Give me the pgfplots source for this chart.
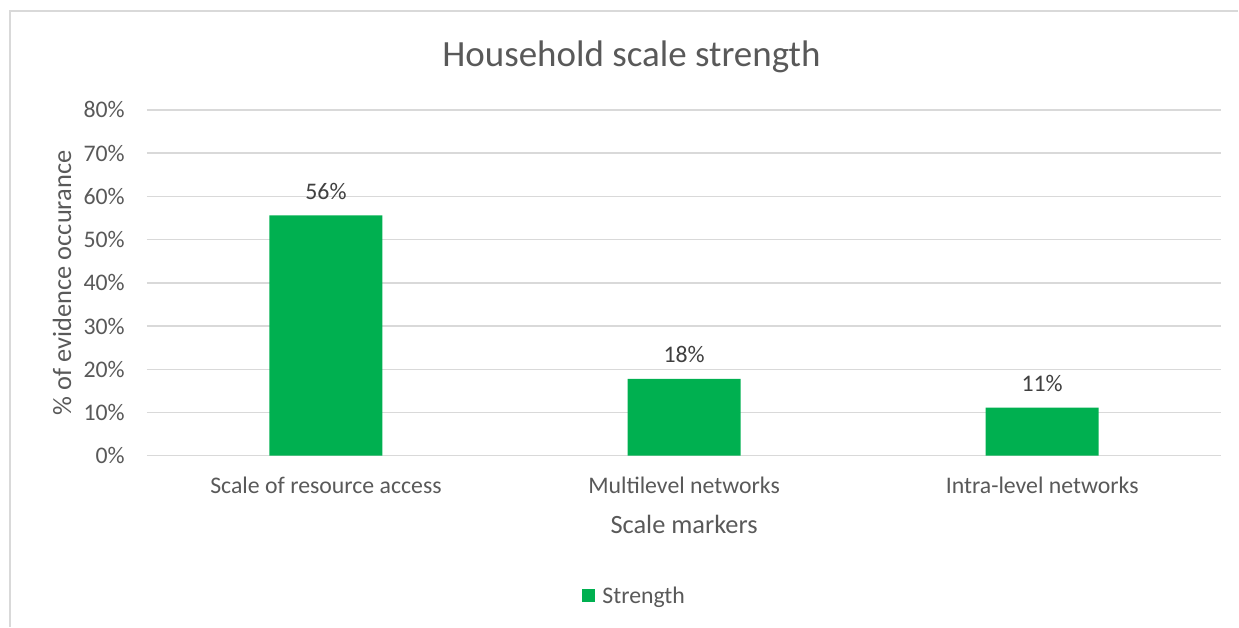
\documentclass[border=0pt]{standalone}
\usepackage{fontspec}
\setmainfont{Carlito}
\usepackage{pgfplots}
\usepackage{pgfplotstable}
\pgfplotsset{compat=1.18}
\definecolor{grid}{HTML}{D9D9D9}
\definecolor{txt}{HTML}{595959}
\definecolor{lbl}{HTML}{404040}
\definecolor{bargreen}{HTML}{00B050}
\pgfplotstableread{
x y label
0 55.6 56\%
1 17.8 18\%
2 11.1 11\%
}\datatable
\begin{document}
\begin{tikzpicture}
\begin{axis}[
  at={(0,0)}, anchor=south west,
  scale only axis, width=1075pt, height=346pt,
  xmin=-0.5, xmax=2.5, ymin=0, ymax=80,
  axis line style={draw=none},
  tick style={draw=none},
  xmajorgrids=false, xminorgrids=false,
  xtick={0,1,2},
  xticklabels={Scale of resource access,Multilevel networks,Intra-level networks},
  ytick={0,10,20,30,40,50,60,70,80},
  yticklabels={0\%,10\%,20\%,30\%,40\%,50\%,60\%,70\%,80\%},
  ymajorgrids, 
  y grid style={grid, line width=1.5pt},
  tick label style={font=\fontsize{23.8}{28}\selectfont, text=txt},
  xticklabel style={anchor=center, yshift=-30pt, inner sep=0pt},
  yticklabel style={anchor=east, xshift=-22pt, inner sep=0pt},
  xlabel={Scale markers},
  ylabel={\% of evidence occurance},
  label style={font=\fontsize{26.4}{31}\selectfont, text=txt},
  xlabel style={at={(axis description cs:0.5,-0.199)}, anchor=center, inner sep=0pt},
  ylabel style={at={(axis description cs:-0.079,0.5)}, anchor=center, rotate=0, inner sep=0pt},
  title={Household scale strength},
  title style={font=\fontsize{37}{44}\selectfont, text=txt, at={(axis description cs:0.451,1.136)}, anchor=center, inner sep=0pt},
  legend style={at={(axis description cs:0.454,-0.405)}, anchor=center, draw=none, fill=none,
    font=\fontsize{23.8}{28}\selectfont, text=txt, inner sep=0pt,
    /tikz/every odd column/.append style={column sep=5pt}},
  legend image code/.code={\fill[#1] (0pt,-6.5pt) rectangle (13pt,6.5pt);},
  nodes near coords,
  point meta=explicit symbolic,
  every node near coord/.append style={font=\fontsize{23.8}{28}\selectfont, text=lbl, anchor=center, yshift=24pt, inner sep=0pt},
  clip=false,
]
\addplot[ybar, bar width=113pt, fill=bargreen, draw=none] table[x=x, y=y, meta=label] {\datatable};
\addlegendentry{Strength}
\end{axis}
\draw[grid, line width=1.5pt] (-137pt,-171pt) -- (-137pt,445pt) -- (1092pt,445pt);
\path[use as bounding box] (-147pt,-171pt) rectangle (1092pt,456pt);
\end{tikzpicture}
\end{document}
